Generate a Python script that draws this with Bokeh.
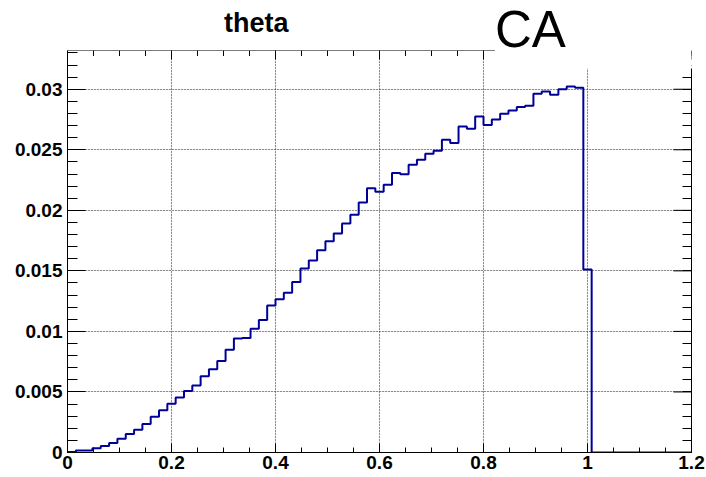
from bokeh.plotting import figure
from bokeh.models import Range1d, LinearAxis, FixedTicker, Label, BoxAnnotation, Grid
from bokeh.embed import file_html
from bokeh.resources import INLINE

# ---- data ----
n_bins = 75
x_lo, x_hi = 0.0, 1.2
counts = [
    0.00005, 0.00017, 0.00017, 0.00036, 0.00053, 0.00078, 0.00114, 0.00152,
    0.00188, 0.00235, 0.00296, 0.00349, 0.00402, 0.00454, 0.00507, 0.00554,
    0.00629, 0.00687, 0.00756, 0.00848, 0.00942, 0.00945, 0.01023, 0.01094,
    0.01215, 0.01265, 0.01320, 0.01408, 0.01520, 0.01586, 0.01671, 0.01745,
    0.01809, 0.01891, 0.01963, 0.02065, 0.02183, 0.02153, 0.02212, 0.02309,
    0.02298, 0.02377, 0.02418, 0.02468, 0.02493, 0.02583, 0.02556, 0.02693,
    0.02674, 0.02775, 0.02704, 0.02751, 0.02797, 0.02825, 0.02853, 0.02863,
    0.02962, 0.02981, 0.02954, 0.03001, 0.03023, 0.03012, 0.01512, 0.0,
    0.0, 0.0, 0.0, 0.0, 0.0, 0.0, 0.0, 0.0, 0.0, 0.0, 0.0,
]
x_major = [0.0, 0.2, 0.4, 0.6, 0.8, 1.0, 1.2]
x_tick_labels = ["0", "0.2", "0.4", "0.6", "0.8", "1", "1.2"]
x_minor = [round(i * 0.05, 4) for i in range(25)]
y_major = [0.0, 0.005, 0.01, 0.015, 0.02, 0.025, 0.03]
y_tick_labels = ["0", "0.005", "0.01", "0.015", "0.02", "0.025", "0.03"]
y_minor = [round(i * 0.001, 4) for i in range(34)]
y_top = 0.0332
title_text = "theta"
tag_text = "CA"

# ---- layout constants (pixels) ----
W, H = 706, 477
border_l, border_r, border_b = 67, 15, 25
frame_w = W - border_l - border_r
frame_h = H - border_b              # frame runs from canvas top to the x axis
top_pad = 50                        # pixels of frame above y_top (title area)
y_end = y_top * frame_h / (frame_h - top_pad)
dpy = y_end / frame_h               # data units per pixel (vertical)
dpx = (x_hi - x_lo) / frame_w       # data units per pixel (horizontal)

def y_at(py):                        # canvas pixel row -> data y
    return (frame_h - py) * dpy

cut_x = 0.822                        # where the "CA" box starts (data x)
cut_y = y_at(68)

bin_w = (x_hi - x_lo) / n_bins
edges = [x_lo + i * bin_w for i in range(n_bins)] + [x_hi]
step_y = counts + [counts[-1]]

p = figure(width=W, height=H, x_range=Range1d(x_lo, x_hi), y_range=Range1d(0, y_end),
           output_backend="svg", toolbar_location=None,
           x_axis_location=None, y_axis_location=None,
           min_border_left=border_l, min_border_right=border_r,
           min_border_top=0, min_border_bottom=border_b)
p.outline_line_color = None
p.background_fill_color = "white"
p.border_fill_color = "white"

lab_font = "Liberation Sans"

def style_axis(ax, major_in, minor_in):
    ax.major_tick_in = major_in
    ax.major_tick_out = 0
    ax.minor_tick_in = minor_in
    ax.minor_tick_out = 0
    ax.axis_line_color = "black"
    ax.major_tick_line_color = "black"
    ax.minor_tick_line_color = "black"
    ax.axis_line_width = 1
    ax.major_label_text_font = lab_font
    ax.major_label_text_font_style = "bold"
    ax.major_label_text_font_size = "19px"
    ax.major_label_text_color = "black"

bottom = LinearAxis(ticker=FixedTicker(ticks=x_major, minor_ticks=x_minor),
                    major_label_overrides=dict(zip(x_major, x_tick_labels)))
style_axis(bottom, 9, 5)
bottom.major_label_standoff = 3
p.add_layout(bottom, "below")

left = LinearAxis(ticker=FixedTicker(ticks=y_major, minor_ticks=y_minor), bounds=(0.0, y_top),
                  major_label_overrides=dict(zip(y_major, y_tick_labels)))
style_axis(left, 18, 10)
left.major_label_standoff = 5
p.add_layout(left, "left")

# right edge: line + minor ticks from an axis without major labels
right = LinearAxis(ticker=FixedTicker(ticks=[], minor_ticks=y_minor), bounds=(0.0, cut_y))
style_axis(right, 0, 9)
right.major_label_standoff = 0
p.add_layout(right, "right")

for dim, tk in ((0, FixedTicker(ticks=x_major[1:-1])), (1, FixedTicker(ticks=y_major[1:]))):
    g = Grid(dimension=dim, ticker=tk)
    g.grid_line_color = "#333333"
    g.grid_line_dash = "1 2"
    g.grid_line_width = 1
    p.add_layout(g, "center")

# histogram
p.step(x=edges, y=step_y, mode="after", line_color="#000099", line_width=2)

# ticks along the top edge of the frame (pointing inward)
p.segment(x0=x_minor, y0=[y_top] * len(x_minor), x1=x_minor,
          y1=[y_top - 5.5 * dpy] * len(x_minor), line_color="black", line_width=1)
p.segment(x0=x_major, y0=[y_top] * len(x_major), x1=x_major,
          y1=[y_top - 9 * dpy] * len(x_major), line_color="black", line_width=1)
# major ticks along the right edge (pointing inward)
p.segment(x0=[x_hi] * len(y_major), y0=y_major, x1=[x_hi - 18 * dpx] * len(y_major),
          y1=y_major, line_color="black", line_width=1)

# blank the area above the frame and the "CA" box
p.add_layout(BoxAnnotation(bottom=y_top, fill_color="white", fill_alpha=1.0, line_color=None))
p.add_layout(BoxAnnotation(left=cut_x, bottom=cut_y, fill_color="white", fill_alpha=1.0,
                           line_color=None))
# top edge of the frame
p.add_layout(BoxAnnotation(left=x_lo, right=cut_x, bottom=y_top, top=y_top, fill_alpha=0.0,
                           line_color="black", line_width=1, level="overlay"))

p.add_layout(Label(x=0.363, y=y_at(22.2), text=title_text, text_font=lab_font,
                   text_font_style="bold", text_font_size="27px", text_align="center",
                   text_baseline="alphabetic", text_color="black"))
p.add_layout(Label(x=cut_x, y=y_at(28.5), text=tag_text, text_font=lab_font,
                   text_font_size="51px", text_align="left",
                   text_baseline="alphabetic", text_color="black"))

open("out.html", "w").write(file_html(p, INLINE))
